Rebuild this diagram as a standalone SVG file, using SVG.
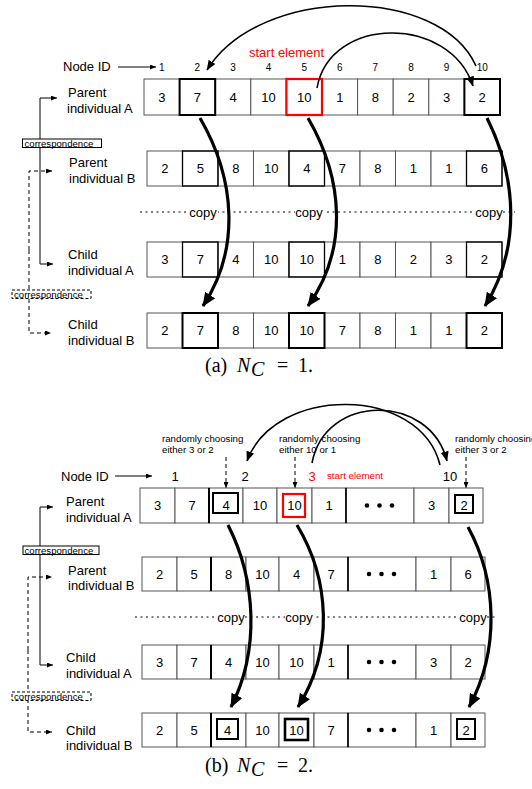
<svg xmlns="http://www.w3.org/2000/svg" width="532" height="789" viewBox="0 0 532 789">
<style>
.bg{fill:#fff}
.c{fill:#fff;stroke:#555;stroke-width:1}
.cd{fill:none;stroke:#000;stroke-width:1.3}
.cb{fill:none;stroke:#000;stroke-width:2}
.cr{fill:none;stroke:#f00;stroke-width:2.2}
.v{font-family:"Liberation Sans",Arial,sans-serif;font-size:13px;text-anchor:middle;fill:#000}
.lab{font-family:"Liberation Sans",Arial,sans-serif;font-size:13px;fill:#000}
.id{font-family:"Liberation Sans",Arial,sans-serif;font-size:10px;text-anchor:middle;fill:#000}
.ann{font-family:"Liberation Sans",Arial,sans-serif;font-size:9.7px;fill:#000}
.red{fill:#f00}
.cor{font-family:"Liberation Sans",Arial,sans-serif;font-size:9.6px;fill:#000}
.cap{font-family:"Liberation Serif","Times New Roman",serif;font-size:20px;fill:#000}
.thick{fill:none;stroke:#000;stroke-width:3.2}
.thin{fill:none;stroke:#000;stroke-width:1.6}
.ln{fill:none;stroke:#000;stroke-width:1}
.dl{fill:none;stroke:#000;stroke-width:1;stroke-dasharray:4,3}
.dot{fill:none;stroke:#000;stroke-width:1;stroke-dasharray:2,3.5}
</style>
<defs>
<marker id="ah" markerWidth="14" markerHeight="12" refX="13" refY="6" orient="auto" markerUnits="userSpaceOnUse"><path d="M0,0 L14,6 L0,12 z" fill="#000"/></marker>
<marker id="as" markerWidth="10" markerHeight="8" refX="9.5" refY="4" orient="auto" markerUnits="userSpaceOnUse"><path d="M0,0 L10,4 L0,8 z" fill="#000"/></marker>
<marker id="at" markerWidth="6" markerHeight="5" refX="6" refY="2.5" orient="auto" markerUnits="userSpaceOnUse"><path d="M0,0 L6,2.5 L0,5 z" fill="#000"/></marker>
</defs>
<rect class="bg" x="0" y="0" width="532" height="789"/>

<!-- ============ (a) ============ -->
<g id="a-nodeid">
<text class="lab" x="63" y="71">Node ID</text>
<line class="ln" x1="118" y1="67" x2="156" y2="67" marker-end="url(#at)"/>
<text class="id" x="161.8" y="71">1</text><text class="id" x="197.4" y="71">2</text><text class="id" x="233" y="71">3</text><text class="id" x="268.6" y="71">4</text><text class="id" x="304.2" y="71">5</text><text class="id" x="339.8" y="71">6</text><text class="id" x="375.4" y="71">7</text><text class="id" x="411" y="71">8</text><text class="id" x="446.6" y="71">9</text><text class="id" x="482.2" y="71">10</text>
<text class="lab red" x="249" y="57">start element</text>
</g>

<g id="a-parentA">
<text class="lab" x="68" y="97">Parent</text><text class="lab" x="67" y="113">individual A</text>
<rect class="c" x="144" y="79" width="35.6" height="36"/><rect class="c" x="179.6" y="79" width="35.6" height="36"/><rect class="c" x="215.2" y="79" width="35.6" height="36"/><rect class="c" x="250.8" y="79" width="35.6" height="36"/><rect class="c" x="286.4" y="79" width="35.6" height="36"/><rect class="c" x="322" y="79" width="35.6" height="36"/><rect class="c" x="357.6" y="79" width="35.6" height="36"/><rect class="c" x="393.2" y="79" width="35.6" height="36"/><rect class="c" x="428.8" y="79" width="35.6" height="36"/><rect class="c" x="464.4" y="79" width="35.6" height="36"/>
<rect class="cb" x="179.6" y="79" width="35.6" height="36"/><rect class="cb" x="464.4" y="79" width="35.6" height="36"/><rect class="cr" x="286.4" y="79" width="35.6" height="36"/>
<text class="v" x="161.8" y="102">3</text><text class="v" x="197.4" y="102">7</text><text class="v" x="233" y="102">4</text><text class="v" x="268.6" y="102">10</text><text class="v" x="304.2" y="102">10</text><text class="v" x="339.8" y="102">1</text><text class="v" x="375.4" y="102">8</text><text class="v" x="411" y="102">2</text><text class="v" x="446.6" y="102">3</text><text class="v" x="482.2" y="102">2</text>
</g>

<g id="a-parentB">
<text class="lab" x="69" y="167">Parent</text><text class="lab" x="69" y="183">individual B</text>
<rect class="c" x="147" y="151" width="35.5" height="35"/><rect class="c" x="182.5" y="151" width="35.5" height="35"/><rect class="c" x="218" y="151" width="35.5" height="35"/><rect class="c" x="253.5" y="151" width="35.5" height="35"/><rect class="c" x="289" y="151" width="35.5" height="35"/><rect class="c" x="324.5" y="151" width="35.5" height="35"/><rect class="c" x="360" y="151" width="35.5" height="35"/><rect class="c" x="395.5" y="151" width="35.5" height="35"/><rect class="c" x="431" y="151" width="35.5" height="35"/><rect class="c" x="466.5" y="151" width="35.5" height="35"/>
<rect class="cd" x="182.5" y="151" width="35.5" height="35"/><rect class="cd" x="289" y="151" width="35.5" height="35"/><rect class="cd" x="466.5" y="151" width="35.5" height="35"/>
<text class="v" x="164.8" y="173">2</text><text class="v" x="200.3" y="173">5</text><text class="v" x="235.8" y="173">8</text><text class="v" x="271.3" y="173">10</text><text class="v" x="306.8" y="173">4</text><text class="v" x="342.3" y="173">7</text><text class="v" x="377.8" y="173">8</text><text class="v" x="413.3" y="173">1</text><text class="v" x="448.8" y="173">1</text><text class="v" x="484.3" y="173">6</text>
</g>

<g id="a-copy">
<line class="dot" x1="140" y1="212" x2="515" y2="212"/>
<rect class="bg" x="189" y="204" width="29" height="14"/><rect class="bg" x="295" y="204" width="29" height="14"/><rect class="bg" x="475" y="204" width="28" height="14"/>
<text class="v" x="203" y="216.5">copy</text><text class="v" x="309" y="216.5">copy</text><text class="v" x="489" y="216.5">copy</text>
</g>

<g id="a-childA">
<text class="lab" x="68" y="259">Child</text><text class="lab" x="68" y="275">individual A</text>
<rect class="c" x="147" y="242" width="35.5" height="35"/><rect class="c" x="182.5" y="242" width="35.5" height="35"/><rect class="c" x="218" y="242" width="35.5" height="35"/><rect class="c" x="253.5" y="242" width="35.5" height="35"/><rect class="c" x="289" y="242" width="35.5" height="35"/><rect class="c" x="324.5" y="242" width="35.5" height="35"/><rect class="c" x="360" y="242" width="35.5" height="35"/><rect class="c" x="395.5" y="242" width="35.5" height="35"/><rect class="c" x="431" y="242" width="35.5" height="35"/><rect class="c" x="466.5" y="242" width="35.5" height="35"/>
<rect class="cd" x="182.5" y="242" width="35.5" height="35"/><rect class="cd" x="289" y="242" width="35.5" height="35"/><rect class="cd" x="466.5" y="242" width="35.5" height="35"/>
<text class="v" x="164.8" y="264">3</text><text class="v" x="200.3" y="264">7</text><text class="v" x="235.8" y="264">4</text><text class="v" x="271.3" y="264">10</text><text class="v" x="306.8" y="264">10</text><text class="v" x="342.3" y="264">1</text><text class="v" x="377.8" y="264">8</text><text class="v" x="413.3" y="264">2</text><text class="v" x="448.8" y="264">3</text><text class="v" x="484.3" y="264">2</text>
</g>

<g id="a-childB">
<text class="lab" x="68" y="329">Child</text><text class="lab" x="68" y="345">individual B</text>
<rect class="c" x="147" y="313" width="35.5" height="35"/><rect class="c" x="182.5" y="313" width="35.5" height="35"/><rect class="c" x="218" y="313" width="35.5" height="35"/><rect class="c" x="253.5" y="313" width="35.5" height="35"/><rect class="c" x="289" y="313" width="35.5" height="35"/><rect class="c" x="324.5" y="313" width="35.5" height="35"/><rect class="c" x="360" y="313" width="35.5" height="35"/><rect class="c" x="395.5" y="313" width="35.5" height="35"/><rect class="c" x="431" y="313" width="35.5" height="35"/><rect class="c" x="466.5" y="313" width="35.5" height="35"/>
<rect class="cb" x="182.5" y="313" width="35.5" height="35"/><rect class="cb" x="289" y="313" width="35.5" height="35"/><rect class="cb" x="466.5" y="313" width="35.5" height="35"/>
<text class="v" x="164.8" y="335">2</text><text class="v" x="200.3" y="335">7</text><text class="v" x="235.8" y="335">8</text><text class="v" x="271.3" y="335">10</text><text class="v" x="306.8" y="335">10</text><text class="v" x="342.3" y="335">7</text><text class="v" x="377.8" y="335">8</text><text class="v" x="413.3" y="335">1</text><text class="v" x="448.8" y="335">1</text><text class="v" x="484.3" y="335">2</text>
</g>

<g id="a-connectors">
<path class="thin" d="M476,66 C440,-15 260,-15 207,70" marker-end="url(#as)"/>
<path class="thin" d="M317,88 C330,15 450,15 473,86" marker-end="url(#as)"/>
<path class="thick" d="M200,118 C236,180 240,250 203,306" marker-end="url(#ah)"/>
<path class="thick" d="M308,118 C344,180 348,250 308,306" marker-end="url(#ah)"/>
<path class="thick" d="M487,118 C518,180 520,250 485,306" marker-end="url(#ah)"/>
<path class="ln" d="M40,181 V98 H57" marker-end="url(#at)"/>
<path class="ln" d="M40,181 V264 H53" marker-end="url(#at)"/>
<path class="dl" d="M29,250 V171 H52" marker-end="url(#at)"/>
<path class="dl" d="M29,250 V333 H51" marker-end="url(#at)"/>
</g>
<g id="a-corr1">
<rect x="22.5" y="139" width="79" height="8.5" fill="#fff" stroke="#000" stroke-width="1"/>
<text class="cor" x="24.5" y="146.5">correspondence</text>
</g>
<g id="a-corr2">
<rect x="12" y="290" width="79" height="8.5" fill="#fff" stroke="#000" stroke-width="1" stroke-dasharray="3,2"/>
<text class="cor" x="14" y="297.5">correspondence</text>
</g>
<g id="a-caption">
<text class="cap" x="205" y="372">(a)</text>
<text class="cap" x="237" y="372" font-style="italic">N</text>
<text class="cap" x="251" y="376" font-style="italic" font-size="14">C</text>
<text class="cap" x="277" y="372">=</text>
<text class="cap" x="298" y="372">1.</text>
</g>

<!-- ============ (b) ============ -->
<g id="b-nodeid">
<text class="lab" x="61" y="481">Node ID</text>
<line class="ln" x1="115" y1="476" x2="152" y2="476" marker-end="url(#at)"/>
<text class="v" x="175" y="481">1</text><text class="v" x="245" y="481">2</text><text class="v red" x="312" y="481">3</text><text class="v" x="450" y="481">10</text>
<text class="ann red" x="327" y="479">start element</text>
</g>
<g id="b-annot">
<text class="ann" x="162" y="442">randomly choosing</text><text class="ann" x="162" y="453">either 3 or 2</text>
<text class="ann" x="279" y="442">randomly choosing</text><text class="ann" x="279" y="453">either 10 or 1</text>
<text class="ann" x="455" y="442">randomly choosing</text><text class="ann" x="455" y="453">either 3 or 2</text>
<path class="dl" d="M226,457 V488" marker-end="url(#at)"/>
<path class="dl" d="M295,457 V488" marker-end="url(#at)"/>
<path class="dl" d="M466,457 V488" marker-end="url(#at)"/>
</g>

<g id="b-parentA">
<text class="lab" x="66" y="506">Parent</text><text class="lab" x="66" y="522">individual A</text>
<rect class="c" x="140" y="488" width="35" height="35"/><rect class="c" x="175" y="488" width="34" height="35"/><rect class="c" x="209" y="488" width="34" height="35"/><rect class="c" x="243" y="488" width="34" height="35"/><rect class="c" x="277" y="488" width="35" height="35"/><rect class="c" x="312" y="488" width="34" height="35"/><rect class="c" x="346" y="488" width="68" height="35"/><rect class="c" x="414" y="488" width="35" height="35"/><rect class="c" x="449" y="488" width="34" height="35"/>
<line x1="209" y1="488" x2="209" y2="523" stroke="#000" stroke-width="2"/><line x1="346" y1="488" x2="346" y2="523" stroke="#000" stroke-width="1.6"/>
<rect class="cb" x="213" y="493" width="25" height="20"/><rect class="cr" x="283" y="494" width="22" height="23"/><rect class="cb" x="455" y="495" width="18" height="18"/>
<text class="v" x="157.5" y="510">3</text><text class="v" x="192" y="510">7</text><text class="v" x="226" y="510">4</text><text class="v" x="260" y="510">10</text><text class="v" x="294.5" y="510">10</text><text class="v" x="329" y="510">1</text><text class="v" x="431.5" y="510">3</text><text class="v" x="464" y="510">2</text>
<circle cx="367" cy="505.5" r="2.3"/><circle cx="379.5" cy="505.5" r="2.3"/><circle cx="392" cy="505.5" r="2.3"/>
</g>

<g id="b-parentB">
<text class="lab" x="68" y="575">Parent</text><text class="lab" x="68" y="590">individual B</text>
<rect class="c" x="142" y="557" width="35" height="34"/><rect class="c" x="177" y="557" width="34" height="34"/><rect class="c" x="211" y="557" width="35" height="34"/><rect class="c" x="246" y="557" width="33" height="34"/><rect class="c" x="279" y="557" width="35" height="34"/><rect class="c" x="314" y="557" width="34" height="34"/><rect class="c" x="348" y="557" width="68" height="34"/><rect class="c" x="416" y="557" width="35" height="34"/><rect class="c" x="451" y="557" width="34" height="34"/>
<line x1="211" y1="557" x2="211" y2="591" stroke="#000" stroke-width="2"/><line x1="348" y1="557" x2="348" y2="591" stroke="#000" stroke-width="1.6"/>
<text class="v" x="159.5" y="578.5">2</text><text class="v" x="194" y="578.5">5</text><text class="v" x="228.5" y="578.5">8</text><text class="v" x="262.5" y="578.5">10</text><text class="v" x="296.5" y="578.5">4</text><text class="v" x="331" y="578.5">7</text><text class="v" x="433.5" y="578.5">1</text><text class="v" x="468" y="578.5">6</text>
<circle cx="369" cy="574" r="2.3"/><circle cx="381.5" cy="574" r="2.3"/><circle cx="394" cy="574" r="2.3"/>
</g>

<g id="b-copy">
<line class="dot" x1="135" y1="617" x2="497" y2="617"/>
<rect class="bg" x="217" y="609" width="28" height="14"/><rect class="bg" x="285" y="609" width="28" height="14"/><rect class="bg" x="459" y="609" width="28" height="14"/>
<text class="v" x="231" y="621.5">copy</text><text class="v" x="299" y="621.5">copy</text><text class="v" x="473" y="621.5">copy</text>
</g>

<g id="b-childA">
<text class="lab" x="66" y="662">Child</text><text class="lab" x="66" y="678">individual A</text>
<rect class="c" x="142" y="645" width="35" height="34"/><rect class="c" x="177" y="645" width="34" height="34"/><rect class="c" x="211" y="645" width="35" height="34"/><rect class="c" x="246" y="645" width="33" height="34"/><rect class="c" x="279" y="645" width="35" height="34"/><rect class="c" x="314" y="645" width="34" height="34"/><rect class="c" x="348" y="645" width="68" height="34"/><rect class="c" x="416" y="645" width="35" height="34"/><rect class="c" x="451" y="645" width="34" height="34"/>
<line x1="211" y1="645" x2="211" y2="679" stroke="#000" stroke-width="2"/><line x1="348" y1="645" x2="348" y2="679" stroke="#000" stroke-width="1.6"/>
<text class="v" x="159.5" y="666.5">3</text><text class="v" x="194" y="666.5">7</text><text class="v" x="228.5" y="666.5">4</text><text class="v" x="262.5" y="666.5">10</text><text class="v" x="296.5" y="666.5">10</text><text class="v" x="331" y="666.5">1</text><text class="v" x="433.5" y="666.5">3</text><text class="v" x="468" y="666.5">2</text>
<circle cx="369" cy="662" r="2.3"/><circle cx="381.5" cy="662" r="2.3"/><circle cx="394" cy="662" r="2.3"/>
</g>

<g id="b-childB">
<text class="lab" x="66" y="735">Child</text><text class="lab" x="66" y="750">individual B</text>
<rect class="c" x="142" y="713" width="35" height="34"/><rect class="c" x="177" y="713" width="34" height="34"/><rect class="c" x="211" y="713" width="35" height="34"/><rect class="c" x="246" y="713" width="33" height="34"/><rect class="c" x="279" y="713" width="35" height="34"/><rect class="c" x="314" y="713" width="34" height="34"/><rect class="c" x="348" y="713" width="68" height="34"/><rect class="c" x="416" y="713" width="35" height="34"/><rect class="c" x="451" y="713" width="34" height="34"/>
<line x1="211" y1="713" x2="211" y2="747" stroke="#000" stroke-width="2"/><line x1="348" y1="713" x2="348" y2="747" stroke="#000" stroke-width="1.6"/>
<rect class="cb" x="217" y="719" width="21" height="20"/><rect x="285" y="719" width="23" height="21" fill="none" stroke="#000" stroke-width="2.6"/><rect class="cb" x="457" y="719" width="18" height="20"/>
<text class="v" x="159.5" y="734.5">2</text><text class="v" x="194" y="734.5">5</text><text class="v" x="227.5" y="734.5">4</text><text class="v" x="262.5" y="734.5">10</text><text class="v" x="296.5" y="734.5">10</text><text class="v" x="331" y="734.5">7</text><text class="v" x="433.5" y="734.5">1</text><text class="v" x="466" y="734.5">2</text>
<circle cx="369" cy="730" r="2.3"/><circle cx="381.5" cy="730" r="2.3"/><circle cx="394" cy="730" r="2.3"/>
</g>

<g id="b-connectors">
<path class="thin" d="M440,465 C420,385 275,385 247,461" marker-end="url(#as)"/>
<path class="thin" d="M312,463 C325,393 430,393 447,461" marker-end="url(#as)"/>
<path class="thick" d="M228,525 C256,580 260,650 231,707" marker-end="url(#ah)"/>
<path class="thick" d="M297,525 C330,580 334,650 298,707" marker-end="url(#ah)"/>
<path class="thick" d="M468,527 C497,580 500,650 469,707" marker-end="url(#ah)"/>
<path class="ln" d="M40,586 V507 H53" marker-end="url(#at)"/>
<path class="ln" d="M40,586 V665 H53" marker-end="url(#at)"/>
<path class="dl" d="M28,650 V577 H52" marker-end="url(#at)"/>
<path class="dl" d="M28,650 V732 H52" marker-end="url(#at)"/>
</g>
<g id="b-corr1">
<rect x="23" y="546" width="76" height="8.5" fill="#fff" stroke="#000" stroke-width="1"/>
<text class="cor" x="24.5" y="553.5">correspondence</text>
</g>
<g id="b-corr2">
<rect x="12" y="692" width="79" height="8.5" fill="#fff" stroke="#000" stroke-width="1" stroke-dasharray="3,2"/>
<text class="cor" x="14" y="699.5">correspondence</text>
</g>
<g id="b-caption">
<text class="cap" x="205" y="772">(b)</text>
<text class="cap" x="237" y="772" font-style="italic">N</text>
<text class="cap" x="251" y="776" font-style="italic" font-size="14">C</text>
<text class="cap" x="277" y="772">=</text>
<text class="cap" x="298" y="772">2.</text>
</g>
</svg>
